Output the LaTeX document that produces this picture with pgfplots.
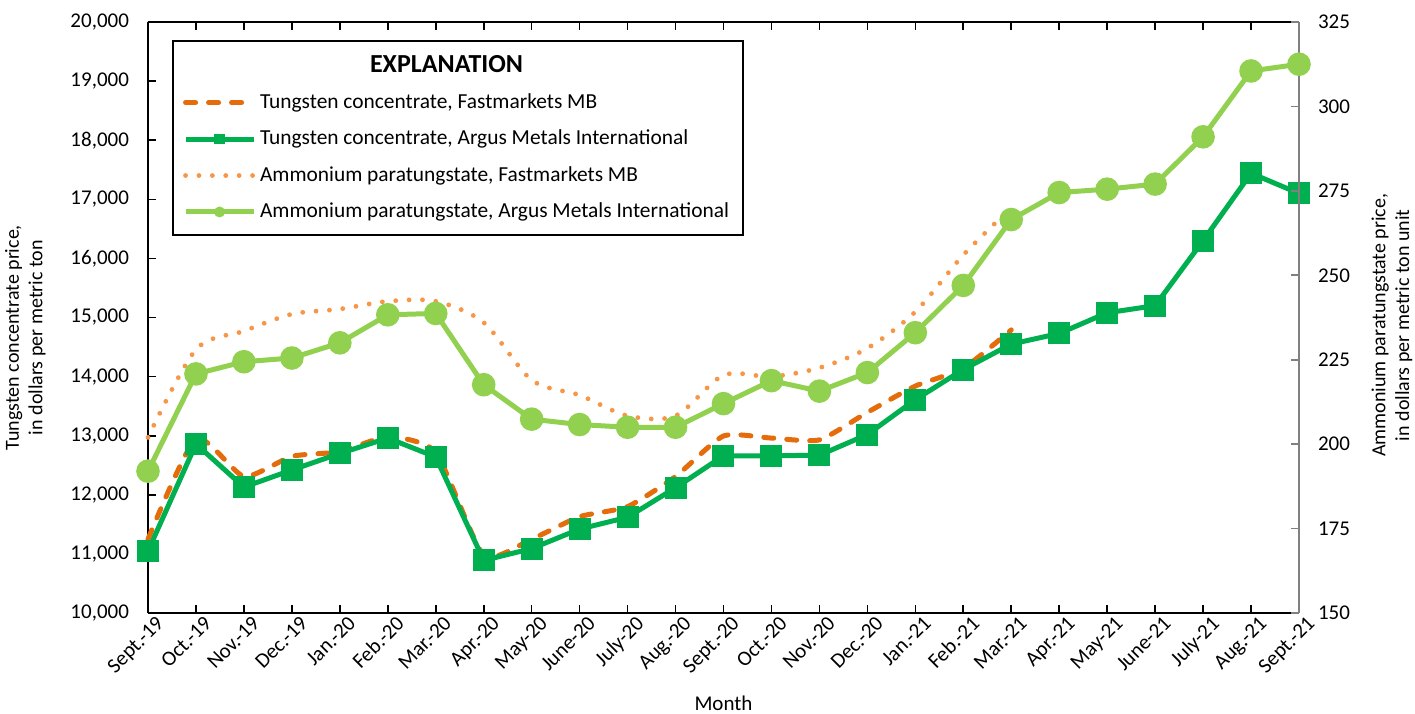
\documentclass[border=0pt]{standalone}
\usepackage{pgfplots}
\pgfplotsset{compat=1.18}
\usepackage{fontspec}
\setmainfont{Carlito}
\definecolor{tcfm}{RGB}{228,108,10}
\definecolor{tcarg}{RGB}{0,176,80}
\definecolor{aptfm}{RGB}{247,150,70}
\definecolor{aptarg}{RGB}{146,208,80}
\pgfplotsset{
 tcfmstyle/.style={color=tcfm, line width=2.5pt, dash pattern=on 5pt off 6.5pt, line cap=round, no marks, smooth, tension=0.35},
 tcargstyle/.style={color=tcarg, line width=2.5pt, mark=square*, mark size=5pt, mark options={solid, line width=1pt}},
 aptfmstyle/.style={color=aptfm, line width=2.4pt, dash pattern=on 0pt off 6.7pt, line cap=round, no marks, smooth, tension=0.5},
 aptargstyle/.style={color=aptarg, line width=2.5pt, mark=*, mark size=5.4pt, mark options={solid, line width=1pt}},
 common/.style={
  scale only axis, width=575.5pt, height=295.5pt,
  xmin=0, xmax=24, clip=false,
  tick align=inside, major tick length=4pt,
  /pgf/number format/assume math mode=true,
  tick label style={font=\fontsize{10.5}{12}\selectfont},
  label style={font=\fontsize{10}{11.8}\selectfont, align=center},
 }
}
\begin{document}
\begin{tikzpicture}
\begin{axis}[common, name=ax,
  axis x line=box, axis y line*=left,
  axis line style={line width=1pt, black},
  every tick/.style={black, line width=0.8pt},
  ymin=10000, ymax=20000, ytick distance=1000,
  /pgf/number format/.cd, 1000 sep={,}, /pgfplots/.cd,
  scaled y ticks=false,
  yticklabel style={xshift=-6pt},
  xtick={0,...,24},
  xticklabels={Sept.-19,Oct.-19,Nov.-19,Dec.-19,Jan.-20,Feb.-20,Mar.-20,Apr.-20,May-20,June-20,July-20,Aug.-20,Sept.-20,Oct.-20,Nov.-20,Dec.-20,Jan.-21,Feb.-21,Mar.-21,Apr.-21,May-21,June-21,July-21,Aug.-21,Sept.-21},
  xticklabel style={rotate=45, anchor=north east, inner sep=1pt, xshift=3pt, yshift=-2pt},
  xlabel={Month},
  xlabel style={at={(axis description cs:0.5,0)}, anchor=center, yshift=-45pt, font=\fontsize{10.5}{12}\selectfont},
  ylabel={Tungsten concentrate price,\\in dollars per metric ton},
  ylabel style={at={(axis description cs:-0.1065,0.466)}, anchor=center},
]
\addplot[tcfmstyle] coordinates {
(0,11250)(1,12950)(2,12310)(3,12650)(4,12730)(5,12980)(6,12720)(7,10980)(8,11250)(9,11630)(10,11800)(11,12310)(12,12995)(13,12960)(14,12930)(15,13395)(16,13840)(17,14140)(18,14790)};
\addplot[tcargstyle] coordinates {
(0,11050)(1,12860)(2,12130)(3,12420)(4,12700)(5,12960)(6,12640)(7,10890)(8,11090)(9,11420)(10,11620)(11,12120)(12,12660)(13,12660)(14,12670)(15,13020)(16,13610)(17,14120)(18,14550)(19,14730)(20,15080)(21,15200)(22,16300)(23,17440)(24,17100)};
\end{axis}
\begin{axis}[common,
  axis x line=none, axis y line*=right,
  axis line style={line width=1pt, gray},
  every tick/.style={gray, line width=0.8pt},
  ymin=150, ymax=325, ytick distance=25,
  yticklabel style={xshift=6pt},
  ylabel={Ammonium paratungstate price,\\in dollars per metric ton unit},
  ylabel style={at={(axis description cs:1.0808,0.487)}, anchor=center},
  legend style={at={(0.0209,0.9695)}, anchor=north west, draw=black, line width=1pt,
    font=\fontsize{10.7}{12.5}\selectfont, row sep=5.3pt, inner xsep=5pt, inner ysep=5pt,
    cells={anchor=west}},
  legend image code/.code={\draw[mark repeat=2,mark phase=2,mark size=2.2pt] plot coordinates {(0pt,0pt)(17pt,0pt)(34pt,0pt)};},
]
\addlegendimage{empty legend}
\addlegendentry{\hspace*{55pt}{\fontsize{13}{15}\selectfont\bfseries EXPLANATION}}
\addlegendimage{tcfmstyle}
\addlegendentry{Tungsten concentrate, Fastmarkets MB}
\addlegendimage{tcargstyle}
\addlegendentry{Tungsten concentrate, Argus Metals International}
\addplot[aptfmstyle] coordinates {
(0,202)(1,228)(2,233.5)(3,238.5)(4,240)(5,242.3)(6,242.3)(7,236)(8,219)(9,214.5)(10,208.4)(11,208.4)(12,220.4)(13,220)(14,222.6)(15,228.4)(16,239.2)(17,256)(18,270)};
\addlegendentry{Ammonium paratungstate, Fastmarkets MB}
\addplot[aptargstyle] coordinates {
(0,192)(1,220.8)(2,224.4)(3,225.5)(4,230)(5,238.3)(6,238.7)(7,217.6)(8,207.4)(9,205.8)(10,205)(11,205)(12,212)(13,218.8)(14,215.7)(15,221.2)(16,233)(17,247)(18,266.5)(19,274.5)(20,275.5)(21,277)(22,291)(23,310.5)(24,312.5)};
\addlegendentry{Ammonium paratungstate, Argus Metals International}
\end{axis}
\pgfresetboundingbox
\path (ax.south west) ++(-74pt,-50pt) rectangle ++(707.5pt,356.5pt);
\end{tikzpicture}
\end{document}
